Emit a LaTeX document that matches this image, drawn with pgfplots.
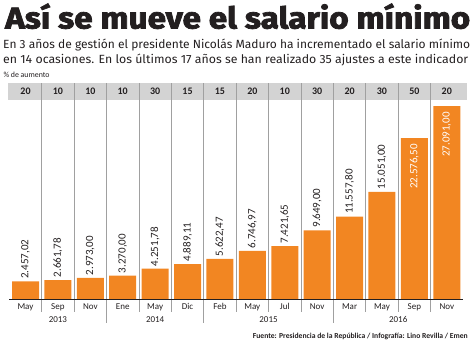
\documentclass[border=0pt]{standalone}
\usepackage{pgfplots}
\pgfplotsset{compat=1.18}
\usepackage{pgfplotstable}
\usepackage{fontspec}
\setmainfont{Carlito}
\newfontfamily\subfont{Fira Sans}
\newfontfamily\titlefont{Fira Sans}[BoldFeatures={FakeBold=2.5}]
\definecolor{barorange}{RGB}{242,134,34}
\definecolor{headgray}{RGB}{211,211,211}
\definecolor{sepgray}{RGB}{160,160,160}
\definecolor{txt}{RGB}{35,31,32}

\pgfplotstableread{
x val lbl pct mon
0 2457.02 2.457,02 20 May
1 2661.78 2.661,78 10 Sep
2 2973.00 2.973,00 10 Nov
3 3270.00 3.270,00 10 Ene
4 4251.78 4.251,78 30 May
5 4889.11 4.889,11 15 Dic
6 5622.47 5.622,47 15 Feb
7 6746.97 6.746,97 20 May
8 7421.65 7.421,65 10 Jul
9 9649.00 9.649,00 30 Nov
10 11557.80 11.557,80 20 Mar
11 15051.00 15.051,00 30 May
12 22576.50 22.576,50 50 Sep
13 27091.00 27.091,00 20 Nov
}\salario

\pgfplotstableread{
x yr
1 2013
4 2014
7.5 2015
11.5 2016
}\years

\begin{document}
\begin{tikzpicture}
\path[use as bounding box] (0,0) rectangle (474pt,341pt);
\begin{axis}[at={(9.3pt,42pt)}, anchor=south west, scale only axis,
  width=453.7pt, height=216pt, xmin=-0.5, xmax=13.5, ymin=0, ymax=30320,
  hide axis, clip=false]
\fill[headgray] (axis cs:-0.55,27934) rectangle (axis cs:13.62,30320);
\pgfplotsinvokeforeach{0.5,1.5,3.5,4.5,6.5,7.5,8.5,10.5,11.5,12.5}{
  \draw[sepgray, line width=0.7pt] (axis cs:#1,30320) -- ([yshift=-13pt]axis cs:#1,0);
}
\pgfplotsinvokeforeach{2.5,5.5,9.5}{
  \draw[sepgray, line width=0.7pt] (axis cs:#1,30320) -- ([yshift=-24pt]axis cs:#1,0);
}
\addplot[ybar, bar width=27pt, bar shift=0pt, fill=barorange, draw=none]
  table[x=x,y=val]{\salario};
\draw[txt, line width=0.9pt] (axis cs:-0.5,0) -- (axis cs:13.5,0);
% value labels above bars
\addplot[draw=none, mark=none, restrict x to domain=0:11, nodes near coords,
  point meta=explicit symbolic,
  every node near coord/.append style={rotate=90, anchor=west, inner xsep=2.5pt,
    inner ysep=0pt, font=\fontsize{11}{11}\selectfont, text=txt}]
  table[x=x,y=val,meta=lbl]{\salario};
% value labels inside bars
\addplot[draw=none, mark=none, restrict x to domain=12:13, nodes near coords,
  point meta=explicit symbolic,
  every node near coord/.append style={rotate=90, anchor=east, inner xsep=6pt,
    inner ysep=0pt, font=\fontsize{11}{11}\selectfont, text=white}]
  table[x=x,y=val,meta=lbl]{\salario};
% header percentages
\addplot[draw=none, mark=none, nodes near coords, point meta=explicit symbolic,
  every node near coord/.append style={anchor=center, inner sep=0pt,
    font=\bfseries\fontsize{10}{10}\selectfont, text=txt}]
  table[x=x,y expr=29127,meta=pct]{\salario};
% month labels
\addplot[draw=none, mark=none, nodes near coords, point meta=explicit symbolic,
  every node near coord/.append style={anchor=base, inner sep=0pt, yshift=-10pt,
    font=\fontsize{9}{9}\selectfont, text=txt}]
  table[x=x,y expr=0,meta=mon]{\salario};
% year labels
\addplot[draw=none, mark=none, nodes near coords, point meta=explicit symbolic,
  every node near coord/.append style={anchor=base, inner sep=0pt, yshift=-23pt,
    font=\fontsize{9}{9}\selectfont, text=txt}]
  table[x=x,y expr=0,meta=yr]{\years};
\end{axis}
\node[anchor=base west, inner sep=0pt, text=txt] at (5pt,312.5pt)
  {\resizebox{465pt}{25pt}{\titlefont\bfseries Así se mueve el salario mínimo}};
\node[anchor=base west, inner sep=0pt, text=txt] at (3pt,292pt)
  {\resizebox{467pt}{9.5pt}{\subfont\fontsize{13}{13}\selectfont En 3 años de gestión el presidente Nicolás Maduro ha incrementado el salario mínimo}};
\node[anchor=base west, inner sep=0pt, text=txt] at (3pt,278pt)
  {\resizebox{465pt}{9.5pt}{\subfont\fontsize{13}{13}\selectfont en 14 ocasiones. En los últimos 17 años se han realizado 35 ajustes a este indicador}};
\node[anchor=base west, inner sep=0pt, text=txt] at (3.3pt,264pt)
  {\resizebox{46pt}{!}{\fontsize{6}{6}\selectfont \% de aumento}};
\node[anchor=base east, inner sep=0pt, text=txt] at (468pt,2.5pt)
  {\resizebox{215pt}{!}{\bfseries\fontsize{7}{7}\selectfont Fuente: Presidencia de la República / Infografía: Lino Revilla / Emen}};
\end{tikzpicture}
\end{document}
